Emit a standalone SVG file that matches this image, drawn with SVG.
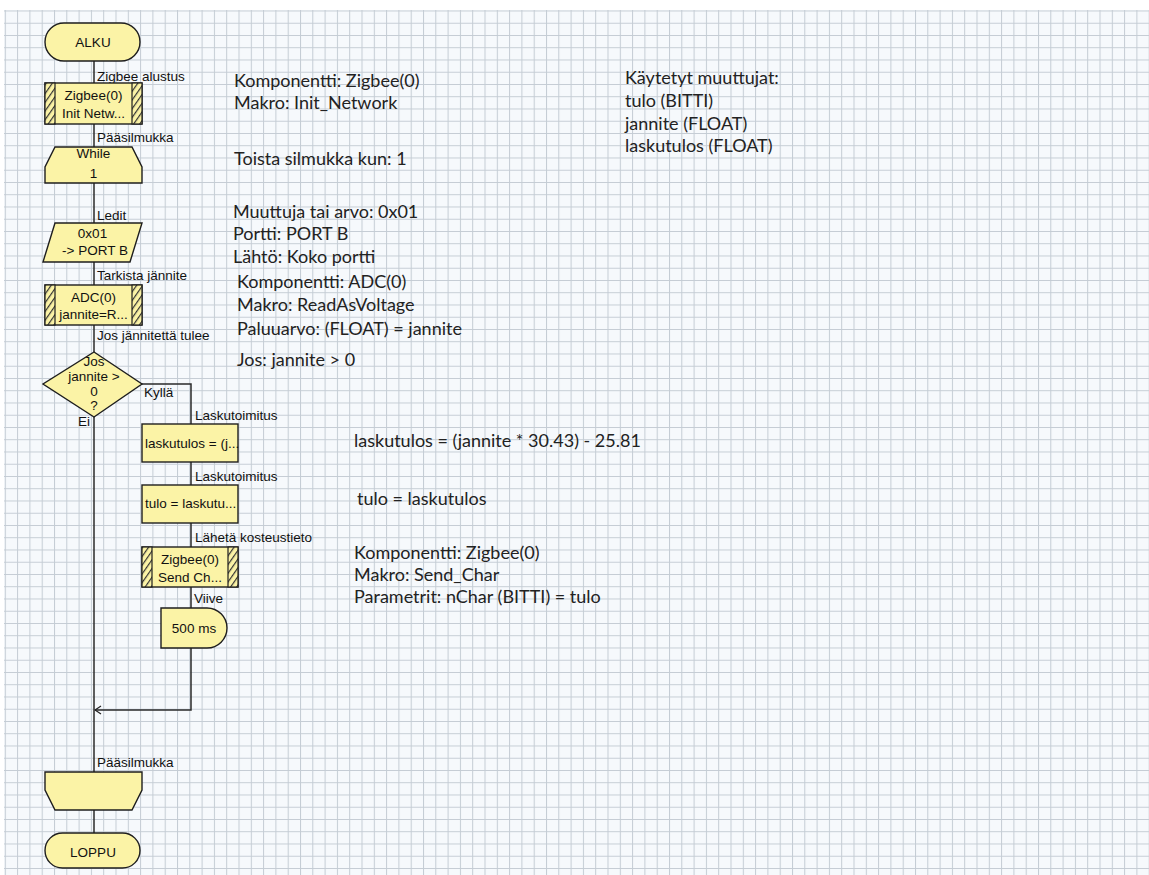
<svg xmlns="http://www.w3.org/2000/svg" width="1149" height="875" viewBox="0 0 1149 875">
<defs>
<pattern id="grid" x="4.8" y="10.5" width="12.3" height="12.25" patternUnits="userSpaceOnUse">
<rect width="12.3" height="12.25" fill="#f6f9fc"/>
<path d="M0 0.5 H12.3 M0.5 0 V12.25" stroke="#c4ccd4" stroke-width="1" fill="none"/>
</pattern>
<pattern id="hatch" width="5" height="5" patternUnits="userSpaceOnUse" patternTransform="rotate(35)">
<rect width="5" height="5" fill="#fbf3a6"/>
<line x1="0.6" y1="0" x2="0.6" y2="5" stroke="#333" stroke-width="1.2"/>
</pattern>
<marker id="arr" markerWidth="8" markerHeight="10" refX="7" refY="5" orient="auto" markerUnits="userSpaceOnUse">
<path d="M1 1 L7 5 L1 9" fill="none" stroke="#222" stroke-width="1.2"/>
</marker>
<style>
.sh{fill:#fbf3a6;stroke:#1e1e1e;stroke-width:1.4}
.hb{fill:url(#hatch);stroke:#1e1e1e;stroke-width:1.2}
.c{fill:none;stroke:#2a2a2a;stroke-width:1.5}
.lb{font-family:"Liberation Sans",Arial,sans-serif;font-size:13.5px;fill:#111}
.nt{font-family:"Liberation Sans",Arial,sans-serif;font-size:13.5px;fill:#111;text-anchor:middle}
.nl{font-family:"Liberation Sans",Arial,sans-serif;font-size:13.5px;fill:#111}
.note{font-family:Lato,"Open Sans",sans-serif;font-size:18px;fill:#222}
</style>
</defs>
<rect x="0" y="0" width="1149" height="875" fill="#ffffff"/>
<rect x="4" y="10" width="1145" height="865" fill="url(#grid)"/>

<g id="connectors">
<path class="c" d="M94 61 V83"/>
<path class="c" d="M94 124 V147"/>
<path class="c" d="M94 183 V223"/>
<path class="c" d="M94 262 V285"/>
<path class="c" d="M94 325 V352"/>
<path class="c" d="M94 417 V772"/>
<path class="c" d="M94 810 V833"/>
<path class="c" d="M142 384 H191 V424"/>
<path class="c" d="M191 462 V485"/>
<path class="c" d="M191 523 V547"/>
<path class="c" d="M191 587 V608"/>
<path class="c" d="M191 648 V710 H95" marker-end="url(#arr)"/>
<text class="lb" x="97" y="81">Zigbee alustus</text>
<text class="lb" x="97" y="142">Pääsilmukka</text>
<text class="lb" x="97" y="220">Ledit</text>
<text class="lb" x="97" y="280">Tarkista jännite</text>
<text class="lb" x="97" y="340">Jos jännitettä tulee</text>
<text class="lb" x="144" y="397">Kyllä</text>
<text class="lb" x="78" y="426">Ei</text>
<text class="lb" x="195" y="420">Laskutoimitus</text>
<text class="lb" x="195" y="481">Laskutoimitus</text>
<text class="lb" x="195" y="542">Lähetä kosteustieto</text>
<text class="lb" x="194" y="603">Viive</text>
<text class="lb" x="97" y="767">Pääsilmukka</text>
</g>

<g id="alku">
<rect class="sh" x="45" y="23" width="95" height="38" rx="19" ry="19"/>
<text class="nt" x="93" y="47" font-size="14">ALKU</text>
</g>

<g id="zigbee-init">
<rect class="sh" x="45" y="83" width="97" height="41"/>
<rect class="hb" x="45" y="83" width="10" height="41"/>
<rect class="hb" x="132" y="83" width="10" height="41"/>
<text class="nt" x="93.5" y="100">Zigbee(0)</text>
<text class="nt" x="93.5" y="118">Init  Netw...</text>
</g>

<g id="while">
<path class="sh" d="M55 147 H132 L142 167 V183 H45 V167 Z"/>
<text class="nt" x="93.5" y="158">While</text>
<text class="nt" x="93.5" y="178">1</text>
</g>

<g id="output">
<path class="sh" d="M55 223 H142 L130 262 H43 Z"/>
<text class="nt" x="92.5" y="238">0x01</text>
<text class="nt" x="95" y="255">-&gt; PORT B</text>
</g>

<g id="adc">
<rect class="sh" x="45" y="285" width="97" height="40"/>
<rect class="hb" x="45" y="285" width="10" height="40"/>
<rect class="hb" x="132" y="285" width="10" height="40"/>
<text class="nt" x="93.5" y="302">ADC(0)</text>
<text class="nt" x="93.5" y="319">jannite=R...</text>
</g>

<g id="decision">
<path class="sh" d="M94 352 L142 384 L94 417 L43 384 Z"/>
<text class="nt" x="94" y="366">Jos</text>
<text class="nt" x="94" y="381">jannite &gt;</text>
<text class="nt" x="94" y="396">0</text>
<text class="nt" x="94" y="410">?</text>
</g>

<g id="calc1">
<rect class="sh" x="142" y="424" width="96" height="38"/>
<text class="nl" x="145" y="448">laskutulos = (j...</text>
</g>

<g id="calc2">
<rect class="sh" x="142" y="485" width="96" height="38"/>
<text class="nl" x="145" y="508">tulo = laskutu...</text>
</g>

<g id="zigbee-send">
<rect class="sh" x="142" y="547" width="96" height="40"/>
<rect class="hb" x="142" y="547" width="10" height="40"/>
<rect class="hb" x="228" y="547" width="10" height="40"/>
<text class="nt" x="190" y="564">Zigbee(0)</text>
<text class="nt" x="190" y="582">Send  Ch...</text>
</g>

<g id="delay">
<path class="sh" d="M161 608 H207 A20 20 0 0 1 207 648 H161 Z"/>
<text class="nt" x="194" y="633">500 ms</text>
</g>

<g id="loop-end">
<path class="sh" d="M45 772 H142 V790 L132 810 H55 L45 790 Z"/>
</g>

<g id="loppu">
<rect class="sh" x="45" y="833" width="95" height="35" rx="17.5" ry="17.5"/>
<text class="nt" x="93" y="857" font-size="14">LOPPU</text>
</g>

<g id="notes">
<text class="note" x="234" y="87">Komponentti: Zigbee(0)</text>
<text class="note" x="234" y="109">Makro: Init_Network</text>
<text class="note" x="234" y="165">Toista silmukka kun: 1</text>
<text class="note" x="233" y="218">Muuttuja tai arvo: 0x01</text>
<text class="note" x="233" y="240">Portti: PORT B</text>
<text class="note" x="233" y="263">Lähtö: Koko portti</text>
<text class="note" x="237" y="288">Komponentti: ADC(0)</text>
<text class="note" x="237" y="311">Makro: ReadAsVoltage</text>
<text class="note" x="237" y="335">Paluuarvo: (FLOAT) = jannite</text>
<text class="note" x="237" y="366">Jos: jannite &gt; 0</text>
<text class="note" x="625" y="84">Käytetyt muuttujat:</text>
<text class="note" x="625" y="107">tulo (BITTI)</text>
<text class="note" x="625" y="130">jannite (FLOAT)</text>
<text class="note" x="625" y="152">laskutulos (FLOAT)</text>
<text class="note" x="354" y="447">laskutulos = (jannite * 30.43) - 25.81</text>
<text class="note" x="357" y="505">tulo = laskutulos</text>
<text class="note" x="354" y="559">Komponentti: Zigbee(0)</text>
<text class="note" x="354" y="581">Makro: Send_Char</text>
<text class="note" x="354" y="603">Parametrit: nChar (BITTI) = tulo</text>
</g>
</svg>
